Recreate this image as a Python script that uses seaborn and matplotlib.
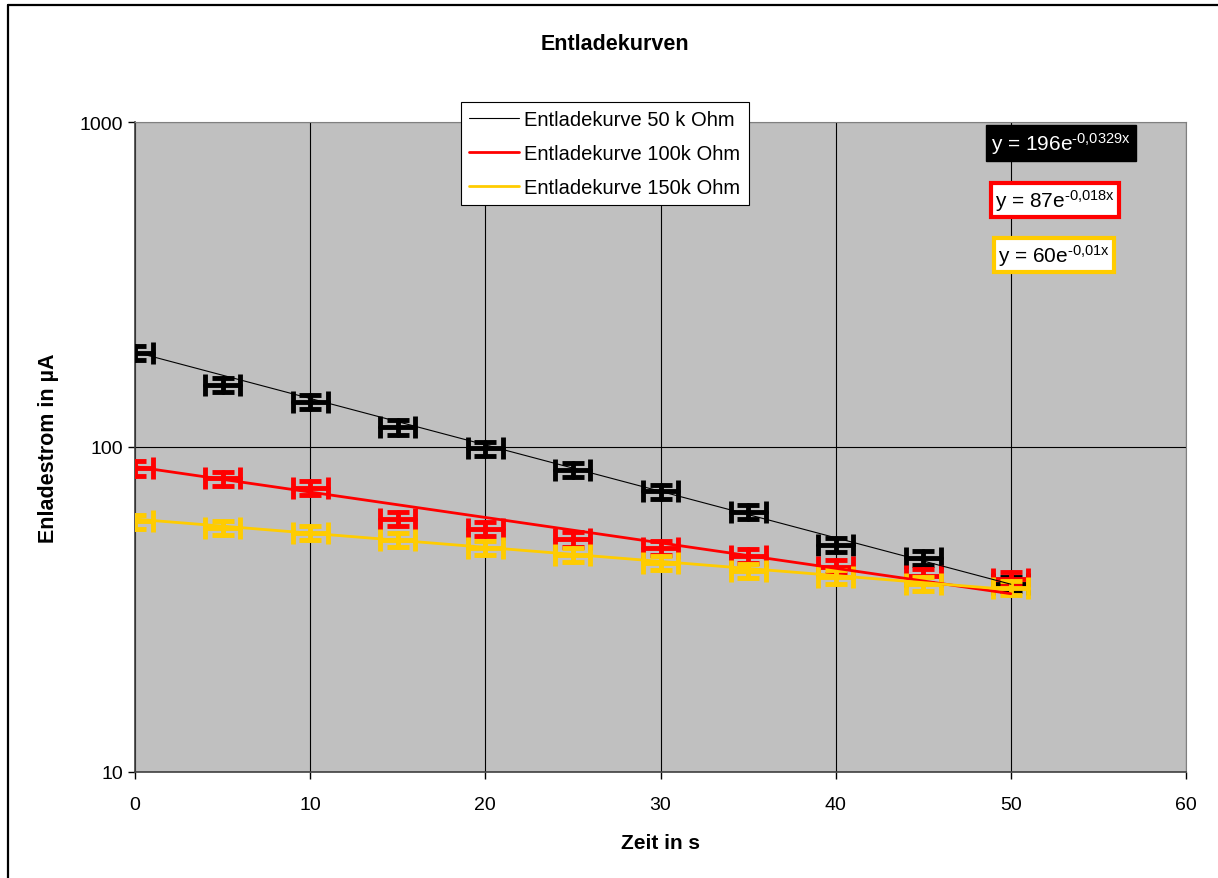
import numpy as np
import pandas as pd
import seaborn as sns
import matplotlib.pyplot as plt
from matplotlib.lines import Line2D

# measured discharge current (µA) vs time (s)
zeit = [0, 5, 10, 15, 20, 25, 30, 35, 40, 45, 50]
strom_50k = [195, 155, 138, 115, 99, 85, 73, 63, 50, 45.5, 38]
strom_100k = [86, 80, 75, 60, 56, 52, 49, 46.2, 42.8, 40.1, 39.3]
strom_150k = [59, 56.5, 54.5, 51.7, 49, 46.5, 44, 41.5, 39.8, 37.9, 36.8]
x_fehler = 1.0          # s
y_fehler_rel = 0.05     # relative current error

series_names = ["Entladekurve 50 k Ohm", "Entladekurve 100k Ohm", "Entladekurve 150k Ohm"]
series_colors = ["#000000", "#FF0000", "#FFCC00"]
line_widths = [0.8, 2.0, 2.0]

# exponential trend lines as displayed in the chart
trend_a = [196, 87, 60]
trend_b = [-0.0329, -0.018, -0.01]
trend_labels = ["y = 196e$^{\\text{-0,0329x}}$",
                "y = 87e$^{\\text{-0,018x}}$",
                "y = 60e$^{\\text{-0,01x}}$"]
trend_x = [0, 50]

sns.set_style("white")
plt.rcParams['font.family'] = ['Liberation Sans', 'DejaVu Sans']
plt.rcParams['mathtext.fontset'] = 'custom'
plt.rcParams['mathtext.rm'] = 'Liberation Sans'
plt.rcParams['mathtext.it'] = 'Liberation Sans'
for key in ['text.color', 'axes.labelcolor', 'xtick.color', 'ytick.color']:
    plt.rcParams[key] = 'black'


def main():
    fig = plt.figure(figsize=(12.18, 8.79), dpi=100)
    ax = fig.add_axes([135 / 1218, 1 - 773 / 879, (1186 - 135) / 1218, (773 - 123) / 879])
    ax.set_facecolor("#C0C0C0")

    # outer chart border (only top and left visible)
    fig.add_artist(Line2D([8 / 1218, 1.0], [1 - 6 / 879, 1 - 6 / 879],
                          transform=fig.transFigure, color="black", linewidth=1.6))
    fig.add_artist(Line2D([8 / 1218, 8 / 1218], [0, 1 - 6 / 879],
                          transform=fig.transFigure, color="black", linewidth=1.6))

    data = [strom_50k, strom_100k, strom_150k]
    for i in range(3):
        y = np.array(data[i])
        eb = ax.errorbar(zeit, y, xerr=x_fehler, yerr=y * y_fehler_rel, fmt="none",
                         ecolor=series_colors[i], elinewidth=3.5, capsize=8, capthick=3.5,
                         zorder=3 + i)
        for coll in eb[2]:
            coll.set_capstyle("round")

    handles = []
    for i in range(3):
        tx = np.array(trend_x, dtype=float)
        df = pd.DataFrame({"x": tx, "y": trend_a[i] * np.exp(trend_b[i] * tx)})
        sns.lineplot(data=df, x="x", y="y", color=series_colors[i],
                     linewidth=line_widths[i], ax=ax, zorder=6 + i)
        handles.append(Line2D([], [], color=series_colors[i], linewidth=line_widths[i]))

    ax.set_yscale("log")
    ax.set_xlim(0, 60)
    ax.set_ylim(10, 1000)
    ax.set_xticks(range(0, 61, 10))
    ax.set_yticks([10, 100, 1000])
    ax.set_yticklabels(["10", "100", "1000"])
    ax.minorticks_off()
    ax.tick_params(axis="both", labelsize=14, length=5, width=1, direction="out",
                   left=True, bottom=True, colors="black")
    ax.tick_params(axis="x", pad=12)
    ax.grid(True, color="black", linewidth=0.8)
    ax.set_axisbelow(True)
    for side in ["top", "right"]:
        ax.spines[side].set_color("#808080")
    for side in ["left", "bottom"]:
        ax.spines[side].set_color("#404040")
        ax.spines[side].set_linewidth(1.2)

    ax.set_xlabel("Zeit in s", fontsize=15, fontweight="bold", labelpad=15)
    ax.set_ylabel("Enladestrom in µA", fontsize=15.5, fontweight="bold", labelpad=15)
    fig.text(0.505, 1 - 44 / 879, "Entladekurven", fontsize=15.5, fontweight="bold",
             ha="center", va="center")

    leg = ax.legend(handles, series_names, loc="upper left",
                    bbox_to_anchor=(461 / 1218, 1 - 103 / 879), bbox_transform=fig.transFigure,
                    borderaxespad=0, fontsize=14.5, frameon=True, fancybox=False,
                    framealpha=1, edgecolor="black", handlelength=2.5, borderpad=0.4,
                    labelspacing=0.75, handletextpad=0.25)
    leg.get_frame().set_linewidth(0.8)
    leg.set_zorder(20)

    box_pos = [(991, 144), (995, 201), (998, 256)]
    for i in range(3):
        if i == 0:
            bbox = dict(boxstyle="square,pad=0.25", facecolor="black", edgecolor="black")
            tcol = "white"
        else:
            bbox = dict(boxstyle="square,pad=0.2", facecolor="white",
                        edgecolor=series_colors[i], linewidth=3)
            tcol = "black"
        fig.text(box_pos[i][0] / 1218, 1 - box_pos[i][1] / 879, trend_labels[i],
                 fontsize=15, color=tcol, ha="left", va="center", bbox=bbox, zorder=20)

    fig.savefig("out.png", dpi=100)


if __name__ == "__main__":
    main()
